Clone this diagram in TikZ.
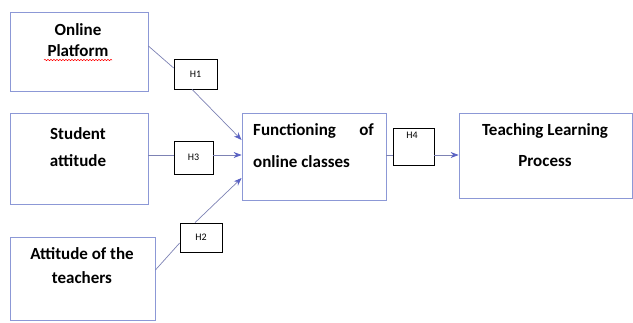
\documentclass[tikz,border=0pt]{standalone}
\usepackage{fontspec}
\setmainfont{Carlito}
\usetikzlibrary{arrows.meta,decorations.pathmorphing,calc}
\definecolor{boxblue}{RGB}{140,152,214}
\definecolor{linecol}{RGB}{125,130,180}
\definecolor{tipcol}{RGB}{90,98,196}
\tikzset{
  varbox/.style={draw=boxblue,line width=0.8pt,minimum width=#1,inner sep=0pt},
  hbox/.style={draw=black,line width=0.7pt,inner sep=0pt,font=\fontsize{10}{11}\selectfont},
  btext/.style={font=\bfseries\fontsize{17}{20}\selectfont,inner sep=0pt,anchor=base},
  link/.style={draw=linecol,line width=0.7pt},
  arr/.style={link,-{Stealth[length=8pt,width=6pt,color=tipcol,fill=tipcol]}}
}
\begin{document}
\begin{tikzpicture}[x=1pt,y=-1pt]
\useasboundingbox (0,0) rectangle (633,322);
% main boxes
\node[varbox=138pt,minimum height=79pt] (op) at (79,51.5) {};
\node[varbox=138pt,minimum height=91pt] (sa) at (79,158.5) {};
\node[varbox=145pt,minimum height=83pt] (at) at (82.5,278.5) {};
\node[varbox=144pt,minimum height=87pt] (fo) at (314,156.5) {};
\node[varbox=173pt,minimum height=85pt] (tl) at (545.5,155.5) {};
% texts
\node[btext] (op1) at (78,35) {Online};
\node[btext] (op2) at (78,56) {Platform};
\node[btext] (sa1) at (78,139) {Student};
\node[btext] (sa2) at (78,166) {attitude};
\node[btext] (at1) at (82,259) {Attitude of the};
\node[btext] (at2) at (82,283) {teachers};
\node[btext,anchor=base west] (fo1) at (253,135) {Functioning};
\node[btext,anchor=base east] (fo2) at (374,135) {of};
\node[btext,anchor=base west] (fo3) at (253,167) {online classes};
\node[btext] (tl1) at (545,135) {Teaching Learning};
\node[btext] (tl2) at (545,166) {Process};
% spell-check underline
\coordinate (sq1) at (44,60);
\coordinate (sq2) at (112,60);
\draw[red,line width=0.5pt,decorate,decoration={snake,amplitude=0.7pt,segment length=3pt}] (sq1) -- (sq2);
% hypothesis boxes
\node[hbox,minimum width=43pt,minimum height=30pt] (h1) at (195.5,74) {H1};
\node[hbox,minimum width=39pt,minimum height=33pt] (h3) at (193.5,157.5) {H3};
\node[hbox,minimum width=42pt,minimum height=29pt] (h2) at (201,237.5) {H2};
\node[hbox,minimum width=41pt,minimum height=37pt] (h4) at (413.5,146.5) {};
\node[font=\fontsize{10}{11}\selectfont,inner sep=0pt] (h4tx) at (412,135) {H4};
% connector points (y grows downward)
\coordinate (a1) at ($(op.east)+(0,-5.5)$);
\coordinate (b1) at ($(h1.west)+(0,-6)$);
\coordinate (c1) at ($(h1.south)+(-3.5,0)$);
\coordinate (t1) at ($(fo.west)+(0,-16.5)$);
\coordinate (a3) at ($(sa.east)+(0,-3.5)$);
\coordinate (b3) at ($(h3.west)+(0,-2.5)$);
\coordinate (c3) at ($(h3.east)+(0,-2.5)$);
\coordinate (t3) at ($(fo.west)+(0,-1.5)$);
\coordinate (a2) at ($(at.east)+(0,-8.5)$);
\coordinate (b2) at ($(h2.west)+(0,5.5)$);
\coordinate (c2) at ($(h2.north)+(-6,0)$);
\coordinate (t2) at ($(fo.west)+(0,21.5)$);
\coordinate (a4) at ($(fo.east)+(0,-1.5)$);
\coordinate (b4) at ($(h4.west)+(0,8.5)$);
\coordinate (c4) at ($(h4.east)+(0,8.5)$);
\coordinate (t4) at ($(tl.west)+(0,-0.5)$);
% connectors
\draw[link] (a1) -- (b1);
\draw[arr] (c1) -- (t1);
\draw[link] (a3) -- (b3);
\draw[arr] (c3) -- (t3);
\draw[link] (a2) -- (b2);
\draw[arr] (c2) -- (t2);
\draw[link] (a4) -- (b4);
\draw[arr] (c4) -- (t4);
\end{tikzpicture}
\end{document}
